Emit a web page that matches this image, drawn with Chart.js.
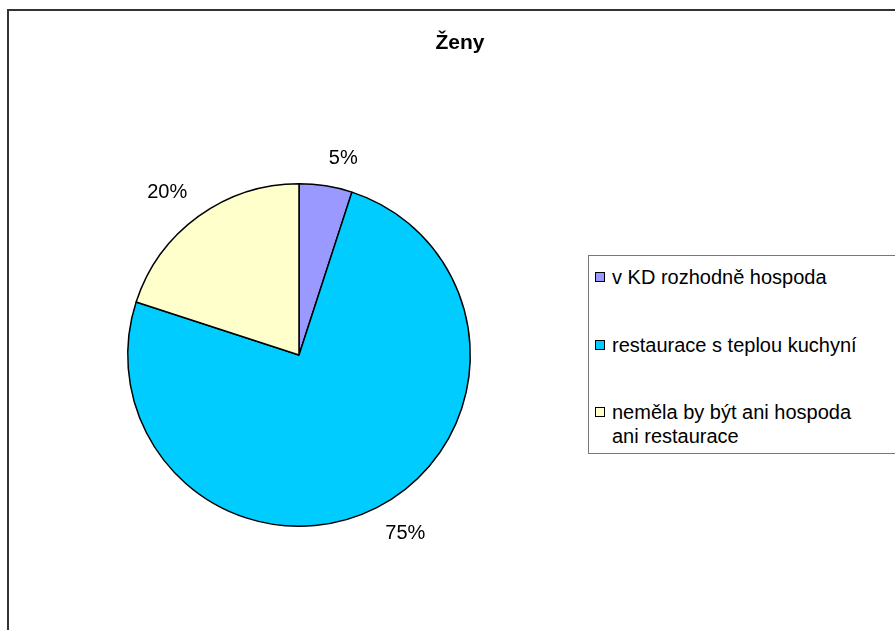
<!DOCTYPE html>
<html>
<head>
<meta charset="utf-8">
<script src="https://cdn.jsdelivr.net/npm/chart.js@4"></script>
<style>
  html, body { margin: 0; padding: 0; background: #fff; overflow: hidden; }
  body { width: 895px; height: 630px; position: relative; font-family: "Liberation Sans", Arial, sans-serif; }
  #frame { position: absolute; left: 7px; top: 9px; width: 900px; height: 640px; border: 2px solid #333; box-sizing: border-box; }
  #title { position: absolute; left: 360px; width: 200px; top: 30px; line-height: 24px; text-align: center; font-weight: bold; font-size: 21px; color: #000; }
  #chart { position: absolute; left: 0; top: 0; }
  #legend { position: absolute; left: 588px; top: 255px; width: 330px; height: 199px; border: 1px solid #777; box-sizing: border-box; background: #fff; }
  .item { position: absolute; left: 6px; font-size: 20px; line-height: 24px; color: #000; white-space: nowrap; }
  .sw { position: absolute; left: 0; top: 7px; width: 10px; height: 10px; border: 1px solid #000; box-sizing: border-box; }
  .txt { margin-left: 17px; }
</style>
</head>
<body>
<div id="frame"></div>
<canvas id="chart" width="895" height="630"></canvas>
<div id="title">Ženy</div>
<div id="legend"></div>
<script>
document.addEventListener("DOMContentLoaded", function() {
    const categories = ["v KD rozhodně hospoda", "restaurace s teplou kuchyní", "neměla by být ani hospoda ani restaurace"];
    const legendLines = [["v KD rozhodně hospoda"], ["restaurace s teplou kuchyní"], ["neměla by být ani hospoda", "ani restaurace"]];
    const values = [5, 75, 20];
    const colors = ["#9999FF", "#00CCFF", "#FFFFCC"];

    // legend box
    const legend = document.getElementById("legend");
    const legendTops = [9, 77, 144];
    legendLines.forEach(function(lines, i) {
        const item = document.createElement("div");
        item.className = "item";
        item.style.top = legendTops[i] + "px";
        item.innerHTML = '<span class="sw" style="background:' + colors[i] + '"></span><div class="txt">' + lines.join("<br>") + "</div>";
        legend.appendChild(item);
    });

    // percentage labels outside the slices: nearest corner of the text box sits just past the rim
    const outsideLabels = {
        id: "outsideLabels",
        afterDatasetsDraw: function(chart) {
            const ctx = chart.ctx;
            const meta = chart.getDatasetMeta(0);
            const total = values.reduce(function(a, b) { return a + b; }, 0);
            ctx.save();
            ctx.font = "20px 'Liberation Sans', Arial, sans-serif";
            ctx.fillStyle = "#000";
            ctx.textAlign = "center";
            ctx.textBaseline = "middle";
            meta.data.forEach(function(arc, i) {
                const text = Math.round(values[i] / total * 100) + "%";
                const mid = (arc.startAngle + arc.endAngle) / 2;
                const halfW = ctx.measureText(text).width / 2;
                const r = arc.outerRadius + 19;
                const cx = Math.cos(mid), sy = Math.sin(mid);
                const x = arc.x + cx * r + Math.sign(cx) * halfW;
                const y = arc.y + sy * r + Math.sign(sy) * 9;
                ctx.fillText(text, x, y);
            });
            ctx.restore();
        }
    };

    new Chart(document.getElementById("chart"), {
        type: "pie",
        data: {
            labels: categories,
            datasets: [{
                data: values,
                backgroundColor: colors,
                borderColor: "#000",
                borderWidth: 1.5
            }]
        },
        options: {
            responsive: false,
            animation: false,
            layout: { padding: { left: 127, right: 424, top: 183, bottom: 103 } },
            plugins: {
                legend: { display: false },
                tooltip: { enabled: false }
            }
        },
        plugins: [outsideLabels]
    });
});
</script>
</body>
</html>
